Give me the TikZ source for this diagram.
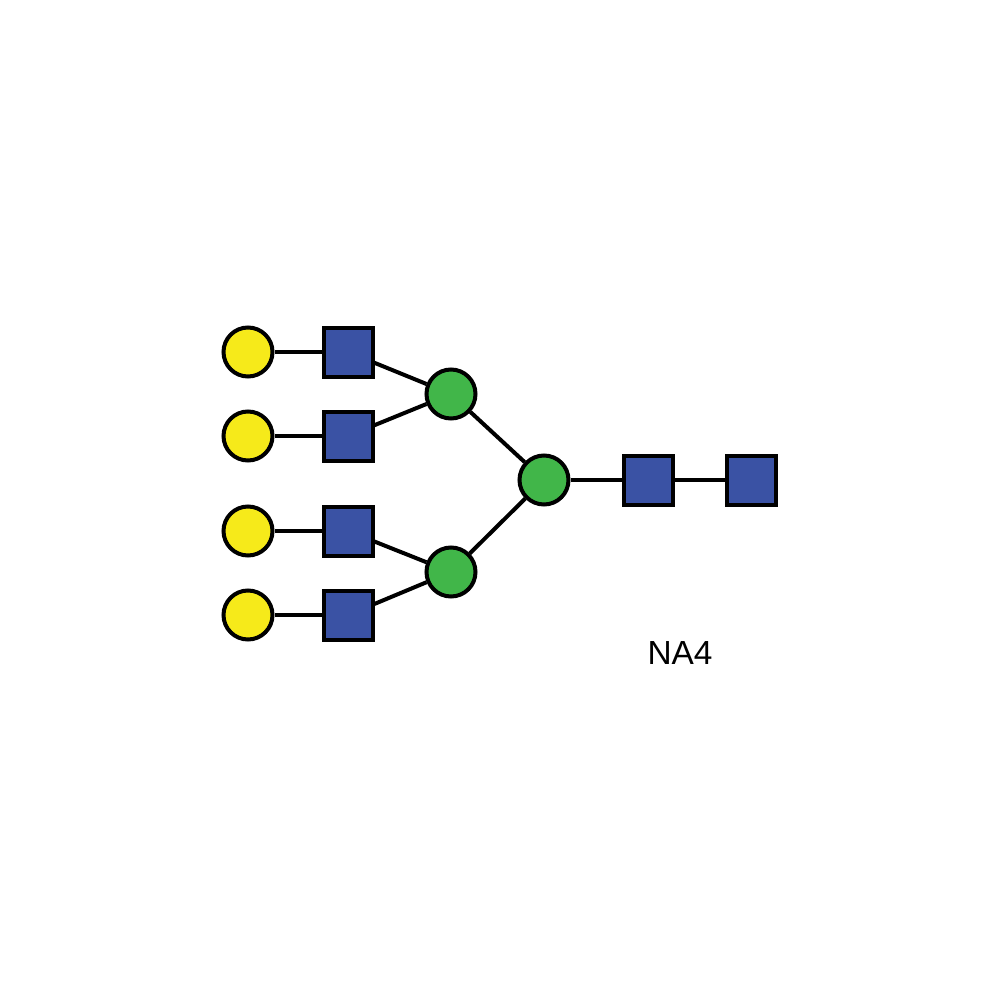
\documentclass[tikz,border=0pt]{standalone}
\usepackage{fontspec}
\setmainfont{Liberation Sans}
\definecolor{galY}{HTML}{F6EA1A}
\definecolor{glcB}{HTML}{3A52A4}
\definecolor{manG}{HTML}{41B649}
\tikzset{
  gal/.style={circle, draw=black, line width=0.8mm, fill=galY, minimum size=9.8mm, inner sep=0pt},
  man/.style={circle, draw=black, line width=0.8mm, fill=manG, minimum size=9.8mm, inner sep=0pt},
  glcnac/.style={rectangle, draw=black, line width=0.8mm, fill=glcB, minimum size=9.8mm, inner sep=0pt},
  bond/.style={draw=black, line width=0.8mm}
}
\begin{document}
\begin{tikzpicture}[x=0.2mm, y=-0.2mm]
\useasboundingbox (0,0) rectangle (1000,1000);
\node[gal] (g1) at (248,352) {};
\node[gal] (g2) at (248,436) {};
\node[gal] (g3) at (248,531) {};
\node[gal] (g4) at (248,615) {};
\node[glcnac] (s1) at (348,352) {};
\node[glcnac] (s2) at (348,436) {};
\node[glcnac] (s3) at (348,531) {};
\node[glcnac] (s4) at (348,615) {};
\node[man] (m1) at (451,394) {};
\node[man] (m2) at (451,572) {};
\node[man] (m3) at (544,480) {};
\node[glcnac] (r1) at (648,480) {};
\node[glcnac] (r2) at (751,480) {};
\node (lbl) at (680,653) {\fontsize{19pt}{23pt}\selectfont NA4};
\draw[bond] (g1) -- (s1);
\draw[bond] (g2) -- (s2);
\draw[bond] (g3) -- (s3);
\draw[bond] (g4) -- (s4);
\draw[bond] (s1) -- (m1);
\draw[bond] (s2) -- (m1);
\draw[bond] (s3) -- (m2);
\draw[bond] (s4) -- (m2);
\draw[bond] (m1) -- (m3);
\draw[bond] (m2) -- (m3);
\draw[bond] (m3) -- (r1);
\draw[bond] (r1) -- (r2);
\end{tikzpicture}
\end{document}
